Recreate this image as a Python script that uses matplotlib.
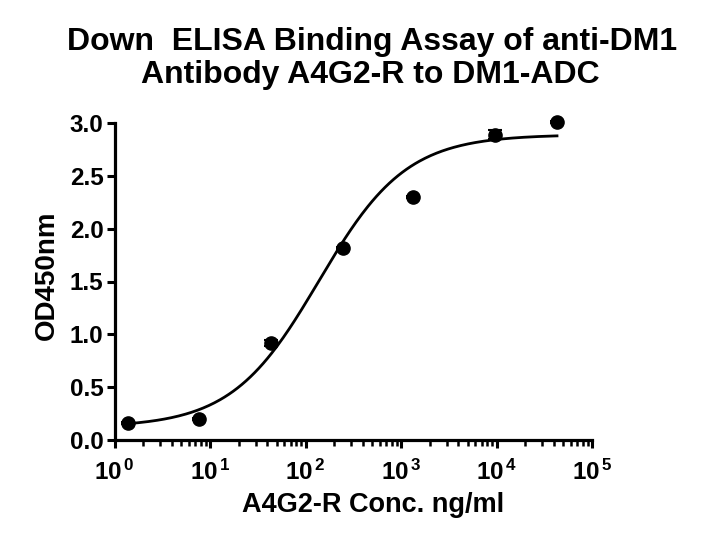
import numpy as np
import matplotlib
matplotlib.use("Agg")
from matplotlib import pyplot as plt
from matplotlib.ticker import FuncFormatter, LogLocator

plt.rcParams['font.family'] = ['Liberation Sans', 'DejaVu Sans']
plt.rcParams['font.weight'] = 'bold'
plt.rcParams['mathtext.fontset'] = 'custom'
plt.rcParams['mathtext.rm'] = 'Liberation Sans:bold'
plt.rcParams['mathtext.bf'] = 'Liberation Sans:bold'
plt.rcParams['mathtext.it'] = 'Liberation Sans:bold'

# data
conc = [1.4, 7.7, 44, 245, 1350, 9700, 43000]
od450 = [0.16, 0.20, 0.92, 1.82, 2.30, 2.89, 3.01]
od_err = [0.01, 0.01, 0.03, 0.01, 0.01, 0.04, 0.01]

# 4PL fit parameters (estimated)
bottom = 0.12
top = 2.89
ec50 = 138
hill = 0.95

title1 = 'Down  ELISA Binding Assay of anti-DM1'
title2 = 'Antibody A4G2-R to DM1-ADC'

W, H = 711, 542
fig = plt.figure(figsize=(W / 100, H / 100), dpi=100)
ax = fig.add_axes([114.5 / W, 102 / H, 477.5 / W, 317 / H])

xs = np.logspace(np.log10(conc[0]), np.log10(conc[-1]), 300)
ys = bottom + (top - bottom) / (1 + (ec50 / xs) ** hill)
ax.plot(xs, ys, color='black', lw=2.0)
ax.errorbar(conc, od450, yerr=od_err, fmt='o', color='black', ms=9.5,
            capsize=5, elinewidth=1.5, capthick=1.5, clip_on=False, zorder=3)

ax.set_xscale('log')
ax.set_xlim(1, 1e5)
ax.set_ylim(0, 3.0)
ax.set_yticks([0.0, 0.5, 1.0, 1.5, 2.0, 2.5, 3.0])
ax.yaxis.set_major_formatter(FuncFormatter(lambda v, p: '%.1f' % v))
ax.xaxis.set_major_locator(LogLocator(base=10, numticks=10))
ax.xaxis.set_minor_locator(LogLocator(base=10, subs=np.arange(2, 10), numticks=20))
ax.xaxis.set_major_formatter(
    FuncFormatter(lambda v, p: r'$\mathbf{10}^{\,\mathbf{%d}}$' % round(np.log10(v))))

for s in ['top', 'right']:
    ax.spines[s].set_visible(False)
for s in ['left', 'bottom']:
    ax.spines[s].set_linewidth(2.3)

ax.tick_params(axis='both', which='major', length=6, width=2.2)
ax.tick_params(axis='y', which='major', labelsize=17.5, pad=2)
ax.tick_params(axis='x', which='major', labelsize=17.5, pad=8)
ax.tick_params(axis='x', which='minor', length=4, width=1.8)

fig.text(373 / W, 1 - 512 / H, 'A4G2-R Conc. ng/ml', fontsize=19.5,
         fontweight='bold', ha='center', va='baseline')
fig.text(47 / W, 1 - 275 / H, 'OD450nm', fontsize=20, fontweight='bold',
         rotation=90, ha='center', va='center')
fig.text(372 / W, 1 - 50 / H, title1, fontsize=23, fontweight='bold',
         ha='center', va='baseline')
fig.text(370 / W, 1 - 83 / H, title2, fontsize=23, fontweight='bold',
         ha='center', va='baseline')

fig.savefig('out.png', dpi=100)
